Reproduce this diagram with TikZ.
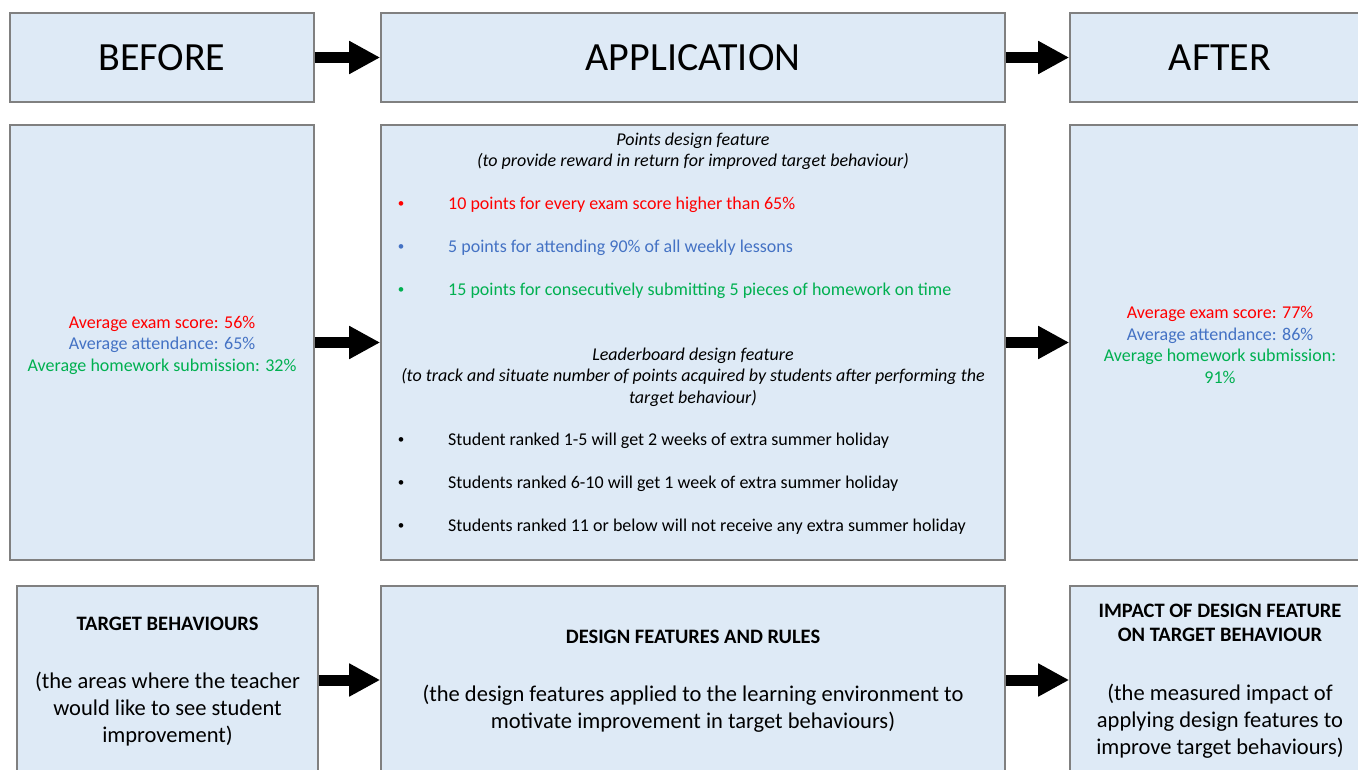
\documentclass[tikz,border=0pt]{standalone}
\usepackage{fontspec}
\setmainfont{Carlito}
\usetikzlibrary{arrows.meta,positioning}
\definecolor{boxfill}{HTML}{DEEAF6}
\definecolor{boxline}{HTML}{808080}
\definecolor{txtred}{HTML}{FF0000}
\definecolor{txtblue}{HTML}{4472C4}
\definecolor{txtgreen}{HTML}{00B050}
\tikzset{
  panel/.style={draw=boxline, line width=1.6pt, fill=boxfill, inner sep=0pt},
  head/.style={font=\fontsize{40}{48}\selectfont},
  body/.style={font=\fontsize{18}{21.5}\selectfont, align=center, inner sep=0pt},
  ital/.style={body, font=\fontsize{18}{21.5}\selectfont\itshape},
  bold/.style={body, font=\fontsize{20.5}{24}\selectfont\bfseries},
  note/.style={font=\fontsize{22.5}{27}\selectfont, align=center, inner sep=0pt},
  item/.style={body, anchor=west},
  bul/.style={body, font=\fontsize{13}{15}\selectfont},
  flow/.style={line width=11pt, -{Triangle[length=31pt,width=31pt]}}
}

\begin{document}
\begin{tikzpicture}[x=1pt, y=-1pt]
\path[use as bounding box, clip] (0,0) rectangle (1358,770);
\fill[white] (0,0) rectangle (1358,770);

\node[panel, head, minimum width=304pt, minimum height=89pt] (before) at (162,57.5) {BEFORE};
\node[panel, head, minimum width=624pt, minimum height=89pt] (app) at (693,57.5) {APPLICATION};
\node[panel, head, minimum width=300pt, minimum height=89pt] (after) at (1220,57.5) {AFTER};

\node[panel, minimum width=304pt, minimum height=435pt] (was) at (162,342.5) {};
\node[body] (wast) at (162,345)
  {\textcolor{txtred}{Average exam score: 56\%}\\
   \textcolor{txtblue}{Average attendance: 65\%}\\
   \textcolor{txtgreen}{Average homework submission: 32\%}};
\node[panel, minimum width=624pt, minimum height=435pt] (rules) at (693,342.5) {};
\node[panel, minimum width=300pt, minimum height=435pt] (now) at (1220,342.5) {};
\node[body] (nowt) at (1220,345)
  {\textcolor{txtred}{Average exam score: 77\%}\\
   \textcolor{txtblue}{Average attendance: 86\%}\\
   \textcolor{txtgreen}{Average homework submission:}\\
   \textcolor{txtgreen}{91\%}};

\node[ital] (pts) at (693,151.5) {Points design feature\\(to provide reward in return for improved target behaviour)};
\foreach \y/\c/\t [count=\i] in {205/txtred/{10 points for every exam score higher than 65\%},
    248/txtblue/{5 points for attending 90\% of all weekly lessons},
    291/txtgreen/{15 points for consecutively submitting 5 pieces of homework on time}} {
  \node[bul, \c] (pb\i) at (401,\y) {\textbullet};
  \node[item, \c] (pt\i) at (448,\y) {\t};
}
\node[ital] (lb) at (693,377) {Leaderboard design feature\\(to track and situate number of points acquired by students after performing the\\target behaviour)};
\foreach \y/\t [count=\i] in {441/{Student ranked 1-5 will get 2 weeks of extra summer holiday},
    484/{Students ranked 6-10 will get 1 week of extra summer holiday},
    527/{Students ranked 11 or below will not receive any extra summer holiday}} {
  \node[bul] (lbb\i) at (401,\y) {\textbullet};
  \node[item] (lbt\i) at (448,\y) {\t};
}

\node[panel, minimum width=301pt, minimum height=220pt] (tb) at (167.5,696) {};
\node[bold] (tbh) at (167.5,624) {TARGET BEHAVIOURS};
\node[note] (tbn) at (167.5,709) {(the areas where the teacher\\would like to see student\\improvement)};

\node[panel, minimum width=624pt, minimum height=220pt] (df) at (693,696) {};
\node[bold] (dfh) at (693,637) {DESIGN FEATURES AND RULES};
\node[note] (dfn) at (693,709) {(the design features applied to the learning environment to\\motivate improvement in target behaviours)};

\node[panel, minimum width=300pt, minimum height=220pt] (imp) at (1220,696) {};
\node[bold] (imph) at (1220,623) {IMPACT OF DESIGN FEATURE\\ON TARGET BEHAVIOUR};
\node[note] (impn) at (1220,721) {(the measured impact of\\applying design features to\\improve target behaviours)};

\draw[flow] (before) -- (app);
\draw[flow] (app) -- (after);
\draw[flow] (was) -- (rules);
\draw[flow] (rules) -- (now);
\draw[flow] ([yshift=16pt]tb.east) -- ([yshift=16pt]df.west);
\draw[flow] ([yshift=16pt]df.east) -- ([yshift=16pt]imp.west);
\end{tikzpicture}
\end{document}
